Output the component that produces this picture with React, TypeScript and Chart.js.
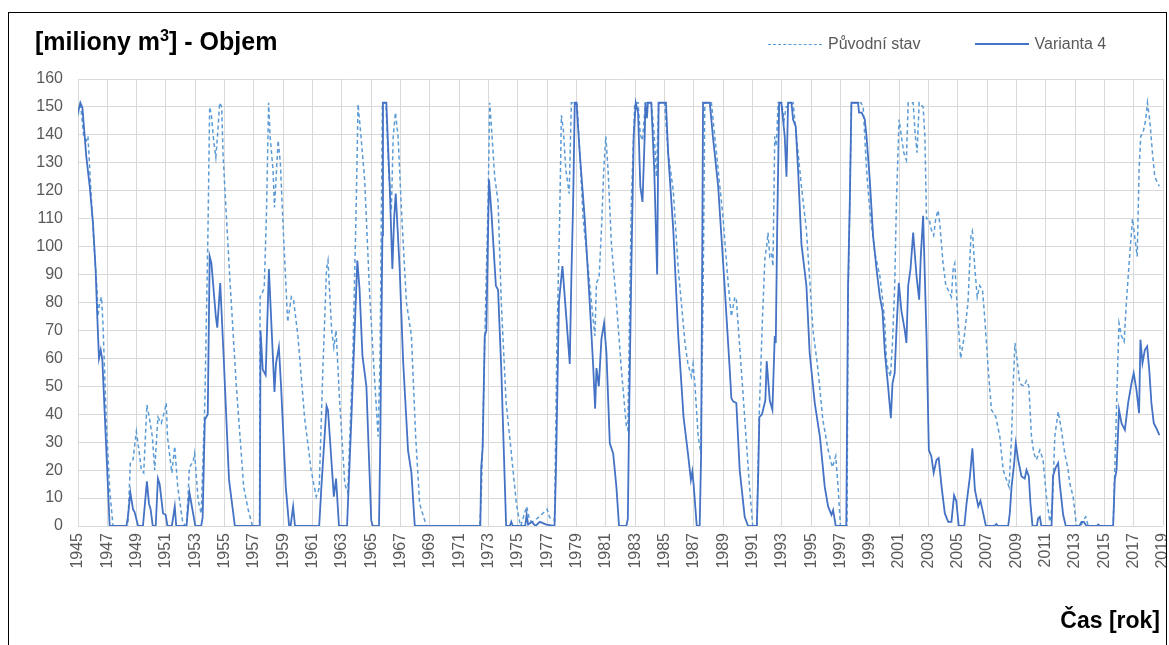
import React, { useEffect, useRef } from "react";
import { Chart, registerables } from "chart.js";

Chart.register(...registerables);

// ---- data -------------------------------------------------------------
const yearTicks = [
  1945, 1947, 1949, 1951, 1953, 1955, 1957, 1959, 1961, 1963, 1965, 1967, 1969,
  1971, 1973, 1975, 1977, 1979, 1981, 1983, 1985, 1987, 1989, 1991, 1993, 1995,
  1997, 1999, 2001, 2003, 2005, 2007, 2009, 2011, 2013, 2015, 2017, 2019,
];

const var4Years = [
  1945.0, 1945.16, 1945.3, 1945.57, 1945.8, 1946.02, 1946.2, 1946.3, 1946.43, 1946.55, 1946.66, 1947.16,
  1948.3, 1948.4, 1948.57, 1948.75, 1948.86, 1949.1, 1949.43, 1949.7, 1949.84, 1949.95, 1950.1, 1950.3,
  1950.45, 1950.57, 1950.8, 1950.98, 1951.1, 1951.4, 1951.6, 1951.7, 1952.4, 1952.6, 1952.85, 1953.0,
  1953.4, 1953.5, 1953.65, 1953.85, 1953.98, 1954.1, 1954.4, 1954.5, 1954.7, 1954.93, 1955.3, 1955.7,
  1957.4, 1957.45, 1957.6, 1957.8, 1958.02, 1958.4, 1958.5, 1958.7, 1958.85, 1959.17, 1959.4, 1959.5,
  1959.67, 1959.8, 1961.45, 1961.6, 1961.95, 1962.05, 1962.45, 1962.6, 1962.8, 1963.35, 1963.65, 1964.05,
  1964.2, 1964.4, 1964.67, 1965.0, 1965.1, 1965.53, 1965.62, 1965.76, 1965.8, 1966.03, 1966.26, 1966.44,
  1966.56, 1966.67, 1966.94, 1967.17, 1967.51, 1967.74, 1967.97, 1972.44, 1972.5, 1972.6, 1972.74, 1972.85,
  1973.03, 1973.2, 1973.5, 1973.65, 1973.87, 1974.2, 1974.45, 1974.55, 1974.65, 1975.5, 1975.6, 1975.7,
  1975.95, 1976.2, 1976.5, 1976.95, 1977.5, 1977.6, 1977.8, 1978.04, 1978.27, 1978.54, 1978.65, 1978.77,
  1978.88, 1979.0, 1979.22, 1979.56, 1979.9, 1980.13, 1980.27, 1980.36, 1980.52, 1980.7, 1980.88, 1981.04,
  1981.27, 1981.5, 1981.72, 1981.9, 1982.4, 1982.5, 1982.6, 1982.74, 1982.9, 1983.04, 1983.2, 1983.35,
  1983.5, 1983.65, 1983.7, 1983.8, 1983.87, 1984.1, 1984.3, 1984.5, 1984.6, 1985.1, 1985.25, 1985.6,
  1985.94, 1986.3, 1986.6, 1986.8, 1986.9, 1987.0, 1987.2, 1987.4, 1987.5, 1987.63, 1988.09, 1988.3,
  1988.66, 1989.1, 1989.45, 1989.56, 1989.68, 1989.9, 1990.13, 1990.47, 1990.7, 1991.3, 1991.4, 1991.47,
  1991.65, 1991.88, 1991.97, 1992.18, 1992.36, 1992.52, 1992.59, 1992.68, 1992.82, 1992.97, 1993.2, 1993.32,
  1993.43, 1993.66, 1993.77, 1993.95, 1994.11, 1994.34, 1994.68, 1994.9, 1995.25, 1995.6, 1995.93, 1996.16,
  1996.39, 1996.5, 1996.68, 1997.4, 1997.52, 1997.64, 1997.75, 1998.2, 1998.27, 1998.45, 1998.66, 1998.78,
  1999.0, 1999.23, 1999.46, 1999.69, 1999.87, 2000.03, 2000.25, 2000.44, 2000.55, 2000.7, 2000.82, 2000.98,
  2001.16, 2001.39, 2001.5, 2001.62, 2001.78, 2001.96, 2002.19, 2002.37, 2002.48, 2002.64, 2002.87, 2003.03,
  2003.2, 2003.36, 2003.55, 2003.7, 2003.9, 2004.12, 2004.35, 2004.57, 2004.75, 2004.9, 2005.07, 2005.45,
  2005.6, 2005.83, 2006.0, 2006.17, 2006.4, 2006.55, 2006.69, 2006.92, 2007.5, 2007.64, 2007.75, 2008.44,
  2008.55, 2008.67, 2008.85, 2008.96, 2009.12, 2009.35, 2009.57, 2009.69, 2009.85, 2009.96, 2010.1, 2010.4,
  2010.48, 2010.6, 2010.7, 2011.4, 2011.5, 2011.69, 2011.85, 2011.96, 2012.19, 2012.37, 2013.3, 2013.44,
  2013.6, 2013.78, 2014.5, 2014.58, 2014.7, 2015.6, 2015.71, 2015.83, 2016.0, 2016.17, 2016.4, 2016.62,
  2016.85, 2017.0, 2017.19, 2017.37, 2017.46, 2017.6, 2017.76, 2017.92, 2018.06, 2018.21, 2018.37, 2018.55,
  2018.75,
];
const var4Values = [
  148, 151.5, 149.7, 132, 121.6, 108.5, 92, 77, 60, 63, 59.5, 0,
  0, 3, 12, 6, 5, 0, 0, 16, 8, 6, 0, 0,
  17, 15, 4.5, 4, 0, 0, 7, 0, 0, 12, 4.5, 0,
  0, 3, 38, 40, 96.5, 94, 75, 71, 87, 61, 16.5, 0,
  0, 70, 56, 54, 92, 48, 58, 64, 50, 14, 0, 0,
  7, 0, 0, 14, 43, 41.5, 10.5, 17, 0, 0, 39, 95,
  85, 61, 50, 2, 0, 0, 32, 104, 151.5, 151.5, 121.6, 92,
  110, 119, 92, 59.5, 27, 19, 0, 0, 21, 28, 68, 70,
  124, 112, 86, 84.5, 56, 0, 0, 1.5, 0, 0, 4, 0.5,
  1.5, 0, 1.5, 0.5, 0, 20, 80, 93, 77, 58, 89, 116,
  151.5, 151.5, 133.5, 110, 80, 58, 42, 56.5, 50, 67, 72.6, 62,
  29.6, 26, 14, 0, 0, 2.5, 44, 92, 139.5, 151.5, 148, 121.6,
  116, 139.5, 151.5, 146, 151.5, 151.5, 127.6, 90, 151.5, 151.5, 133.5, 106,
  68, 39, 26, 16.5, 19.5, 14, 0, 0, 26, 151.5, 151.5, 139.5,
  121.6, 86, 56, 45.8, 44.6, 44, 20, 3.3, 0, 0, 20, 39,
  40, 45, 59, 45, 41.6, 68, 65.5, 104, 151.5, 151.5, 139.5, 125,
  151.5, 151.5, 145.5, 143, 127.6, 101, 86, 62, 44, 32, 14, 7,
  4, 5.7, 0, 0, 86, 116, 151.5, 151.5, 148, 148, 145.5, 139.5,
  124, 103.7, 92, 82, 77, 62, 50, 38.6, 51, 54.7, 70, 87,
  77, 70, 65.5, 86, 92, 105, 89.4, 81, 96.5, 111, 68, 27.2,
  25, 19, 23.6, 24.3, 14, 4.5, 1.5, 1.5, 11, 9, 0, 0,
  8, 17.7, 27.8, 13, 7, 9, 5.7, 0, 0, 0.7, 0, 0,
  4.5, 14, 22.5, 29.6, 23.7, 17.7, 17, 20, 17.7, 8, 0, 0,
  2.7, 3.3, 0, 0, 18, 21, 22.5, 15, 4, 0, 0, 1.5,
  1.5, 0, 0, 0.5, 0, 0, 16.5, 20, 41.6, 36.8, 34.4, 44,
  51, 54.7, 48.7, 40.4, 66.7, 58.3, 63, 64.3, 56, 44, 36.8, 35,
  32.5,
];

const origYears = [
  1945.0, 1945.16, 1945.39, 1945.57, 1945.68, 1945.9, 1946.14, 1946.3, 1946.36, 1946.48, 1946.6, 1946.7,
  1946.93, 1947.16, 1947.39, 1948.4, 1948.57, 1948.75, 1948.98, 1949.16, 1949.32, 1949.48, 1949.7, 1949.89,
  1950.07, 1950.23, 1950.45, 1950.68, 1950.9, 1951.02, 1951.1, 1951.4, 1951.6, 1951.8, 1952.15, 1952.4,
  1952.6, 1952.85, 1952.95, 1953.2, 1953.4, 1953.65, 1953.86, 1953.98, 1954.1, 1954.25, 1954.4, 1954.55,
  1954.66, 1954.8, 1954.9, 1955.35, 1955.8, 1956.3, 1956.6, 1956.9, 1957.38, 1957.42, 1957.7, 1957.85,
  1958.0, 1958.1, 1958.3, 1958.4, 1958.65, 1958.8, 1959.0, 1959.3, 1959.55, 1959.7, 1960.0, 1960.45,
  1960.9, 1961.25, 1961.45, 1961.7, 1961.95, 1962.05, 1962.3, 1962.45, 1962.6, 1962.85, 1963.2, 1963.4,
  1963.75, 1963.98, 1964.1, 1964.3, 1964.55, 1964.9, 1965.2, 1965.47, 1965.6, 1965.76, 1966.0, 1966.2,
  1966.37, 1966.5, 1966.65, 1966.83, 1967.06, 1967.4, 1967.74, 1968.03, 1968.3, 1968.76, 1972.4, 1972.5,
  1972.55, 1972.7, 1972.8, 1972.97, 1973.08, 1973.24, 1973.42, 1973.65, 1973.87, 1974.2, 1974.44, 1974.67,
  1974.9, 1975.1, 1975.2, 1975.6, 1975.8, 1976.0, 1976.38, 1976.7, 1977.0, 1977.17, 1977.5, 1977.67,
  1977.85, 1977.97, 1978.1, 1978.27, 1978.5, 1978.65, 1978.88, 1979.04, 1979.22, 1979.45, 1979.8, 1980.02,
  1980.25, 1980.36, 1980.54, 1980.7, 1980.86, 1981.0, 1981.15, 1981.38, 1981.72, 1982.06, 1982.4, 1982.5,
  1982.63, 1982.74, 1982.97, 1983.2, 1983.35, 1983.5, 1983.7, 1984.1, 1984.3, 1984.45, 1984.6, 1985.0,
  1985.25, 1985.6, 1985.94, 1986.4, 1986.6, 1986.84, 1986.95, 1987.07, 1987.3, 1987.48, 1987.63, 1987.75,
  1988.2, 1988.43, 1989.0, 1989.34, 1989.56, 1989.8, 1989.9, 1990.24, 1990.56, 1990.8, 1991.02, 1991.3,
  1991.45, 1991.68, 1991.85, 1991.97, 1992.06, 1992.18, 1992.3, 1992.4, 1992.52, 1992.63, 1992.75, 1993.0,
  1993.15, 1993.3, 1993.77, 1994.0, 1994.34, 1994.68, 1995.13, 1995.47, 1995.8, 1996.16, 1996.45, 1996.68,
  1996.84, 1997.0, 1997.45, 1997.52, 1997.75, 1998.4, 1998.55, 1998.78, 1999.0, 1999.35, 1999.69, 1999.9,
  2000.03, 2000.14, 2000.25, 2000.41, 2000.55, 2000.7, 2000.82, 2001.0, 2001.16, 2001.32, 2001.5, 2001.62,
  2001.96, 2002.1, 2002.23, 2002.37, 2002.64, 2002.76, 2002.87, 2003.05, 2003.2, 2003.36, 2003.5, 2003.66,
  2003.78, 2004.0, 2004.19, 2004.35, 2004.57, 2004.69, 2004.8, 2004.98, 2005.2, 2005.45, 2005.7, 2005.9,
  2006.0, 2006.17, 2006.33, 2006.5, 2006.69, 2006.85, 2007.08, 2007.3, 2007.6, 2007.87, 2008.1, 2008.33,
  2008.5, 2008.67, 2008.78, 2008.9, 2009.05, 2009.23, 2009.5, 2009.69, 2009.85, 2010.03, 2010.19, 2010.37,
  2010.6, 2010.82, 2011.05, 2011.28, 2011.46, 2011.62, 2011.85, 2012.07, 2012.3, 2012.53, 2012.64, 2012.87,
  2013.1, 2013.4, 2013.55, 2013.73, 2013.9, 2015.6, 2015.71, 2015.87, 2016.0, 2016.17, 2016.35, 2016.5,
  2016.74, 2016.92, 2017.07, 2017.24, 2017.37, 2017.48, 2017.64, 2017.82, 2017.94, 2018.1, 2018.28, 2018.44,
  2018.75,
];
const origValues = [
  147, 151.5, 139.5, 138, 139.5, 118, 96.5, 84.5, 75, 80, 82, 72.6,
  38, 13, 0, 0, 22.5, 23.7, 33.8, 27, 20, 19, 43.4, 38,
  32, 20, 39, 36.8, 41, 44, 32, 19, 28.5, 14, 1, 0,
  21, 23, 26, 9, 4.5, 44, 104, 150, 147, 138, 132, 142,
  151.5, 150, 132, 89, 50, 14, 6, 0, 0, 82, 85, 111,
  151.5, 139.5, 127.5, 114, 138, 130, 106, 73, 82, 81, 68, 39,
  20, 10.5, 13.5, 56, 92, 95, 70, 64, 70, 44, 15, 12,
  62, 116, 151, 139.5, 124, 82, 55, 32, 60, 151.5, 151.5, 126,
  113, 139.5, 148, 139.5, 113, 80, 68, 32, 8, 0, 0, 10,
  20, 56, 80, 116, 151.5, 139.5, 125, 116, 80, 44, 32, 20,
  8, 2, 0, 7, 2, 1.5, 3, 4.5, 6, 3, 2, 68,
  110, 147, 142, 127.6, 119, 151.5, 151.5, 151, 133.5, 110, 92, 80,
  68, 87, 89, 106, 127.6, 139.5, 127.6, 101, 80, 56, 35.6, 34.4,
  80, 116, 151.5, 151.5, 140, 138, 151.5, 151.5, 140, 125, 151.5, 151.5,
  133.5, 120, 92, 65.5, 58, 53.5, 58, 51, 32, 26, 80, 151.5,
  151.5, 139.5, 110, 87, 75, 82, 81, 56, 32, 14, 0, 0,
  38, 74, 96, 100, 105, 96.5, 97.7, 93, 139.5, 136, 151.5, 151.5,
  145, 150, 151.5, 139.5, 121.6, 106, 70, 56, 38, 27.2, 21, 25,
  14, 0, 0, 80, 151.5, 151.5, 150, 127.6, 113, 97.7, 89.4, 80,
  72.6, 59.5, 56, 53.5, 65.5, 86, 116, 145.5, 139.5, 133.6, 131, 151.5,
  151.5, 140, 133.6, 151.5, 150, 139.5, 110, 110, 106, 104, 110, 113,
  108, 94, 86, 84.5, 82, 92, 94, 77, 60, 68, 80, 103.7,
  105.5, 92, 82, 86, 84.5, 74, 56, 41.6, 39, 32, 20, 16.5,
  14, 32, 50, 65.5, 59.5, 51, 50, 52, 50, 32, 26, 23.7,
  27.2, 23.7, 10.5, 1.5, 8, 32, 41, 34.4, 26, 20, 15.3, 10.5,
  0, 0, 2, 3.3, 0, 0, 20, 50, 72.6, 68, 66, 80,
  97.7, 110, 103.7, 96.5, 127.6, 139.5, 140.7, 145.5, 151.5, 145, 133.6, 125,
  121.6,
];

const seriesNames = ["Původní stav", "Varianta 4"];
const yMin = 0;
const yMax = 160;
const yStep = 10;

// ---- component --------------------------------------------------------
const FONT = "'Liberation Sans', Arial, sans-serif";
const TEXT = "#595959";

export default function App() {
  const ref = useRef<HTMLCanvasElement | null>(null);

  useEffect(() => {
    const canvas = ref.current;
    if (!canvas) return;
    const chart = new Chart(canvas, {
      type: "line",
      data: {
        datasets: [
          {
            label: seriesNames[1],
            data: var4Years.map((x, i) => ({ x, y: var4Values[i] })),
            borderColor: "#4472C4",
            borderWidth: 1.8,
            pointRadius: 0,
            tension: 0,
            fill: false,
            order: 0,
          },
          {
            label: seriesNames[0],
            data: origYears.map((x, i) => ({ x, y: origValues[i] })),
            borderColor: "#5B9BD5",
            borderWidth: 1.5,
            borderDash: [4, 3],
            pointRadius: 0,
            tension: 0,
            fill: false,
            order: 1,
          },
        ],
      },
      options: {
        responsive: false,
        animation: false,
        devicePixelRatio: 1,
        layout: { padding: { left: 0, right: 6, top: 79, bottom: 0 } },
        plugins: { legend: { display: false }, tooltip: { enabled: false }, title: { display: false } },
        scales: {
          x: {
            type: "linear",
            min: yearTicks[0],
            max: yearTicks[yearTicks.length - 1],
            afterBuildTicks: (s: any) => {
              s.ticks = yearTicks.map((v) => ({ value: v }));
            },
            afterFit: (s: any) => {
              s.height = 119;
              s.paddingLeft = 0;
              s.paddingRight = 0;
            },
            ticks: {
              autoSkip: false,
              minRotation: 90,
              maxRotation: 90,
              padding: 7,
              color: TEXT,
              font: { family: FONT, size: 16 },
              callback: (v: any) => String(v),
            },
            grid: { color: "#d9d9d9", lineWidth: 1, drawTicks: false },
            border: { display: false },
          },
          y: {
            min: yMin,
            max: yMax,
            afterFit: (s: any) => {
              s.width = 78;
            },
            ticks: {
              stepSize: yStep,
              padding: 15,
              color: TEXT,
              font: { family: FONT, size: 16 },
            },
            grid: { color: "#d9d9d9", lineWidth: 1, drawTicks: false },
            border: { display: false },
          },
        },
      },
    });
    return () => chart.destroy();
  }, []);

  return (
    <div style={{ position: "absolute", left: 0, top: 0, width: 1169, height: 645, overflow: "hidden", background: "#fff" }}>
      <canvas ref={ref} width={1169} height={645} style={{ position: "absolute", left: 0, top: 0 }} />
      <div style={{ position: "absolute", left: 8, top: 12, width: 1157, height: 700, border: "1.5px solid #000", pointerEvents: "none" }} />
      <div style={{ position: "absolute", left: 35, top: 27, font: `bold 25px ${FONT}`, color: "#000", whiteSpace: "nowrap" }}>
        [miliony m<sup style={{ fontSize: "0.65em", verticalAlign: "0.55em", lineHeight: 0 }}>3</sup>] - Objem
      </div>
      <div style={{ position: "absolute", left: 768, top: 35, display: "flex", alignItems: "center", font: `16px ${FONT}`, color: TEXT, whiteSpace: "nowrap" }}>
        <span style={{ display: "inline-block", width: 54, borderTop: "1.5px dashed #5B9BD5", marginRight: 6 }} />
        <span>{seriesNames[0]}</span>
        <span style={{ display: "inline-block", width: 54, borderTop: "2px solid #4472C4", marginLeft: 54, marginRight: 6 }} />
        <span>{seriesNames[1]}</span>
      </div>
      <div style={{ position: "absolute", right: 9, top: 607, font: `bold 23px ${FONT}`, color: "#000", whiteSpace: "nowrap" }}>
        Čas [rok]
      </div>
    </div>
  );
}
